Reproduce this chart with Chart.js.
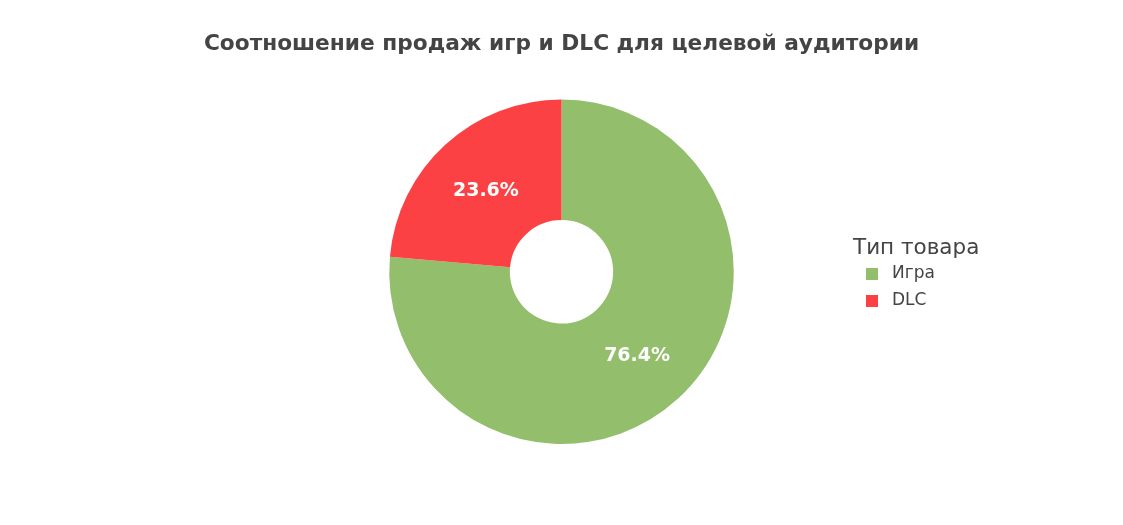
<!DOCTYPE html>
<html>
<head>
<meta charset="utf-8">
<script src="https://cdn.jsdelivr.net/npm/chart.js@4/dist/chart.umd.min.js"></script>
<style>
html,body{margin:0;padding:0;background:#fff;}
#wrap{width:1123px;height:525px;position:relative;}
</style>
</head>
<body>
<div id="wrap"><canvas id="c" width="1123" height="525"></canvas></div>
<script>
const titleText = 'Соотношение продаж игр и DLC для целевой аудитории';
const legendTitle = 'Тип товара';
const categories = ['Игра', 'DLC'];
const values = [76.4, 23.6];
const colors = ['#93be6c', '#fc4144'];

const FONT = "'DejaVu Sans', sans-serif";

const labelPlugin = {
  id: 'sliceLabels',
  afterDatasetsDraw(chart) {
    const ctx = chart.ctx;
    const meta = chart.getDatasetMeta(0);
    const total = values.reduce((a, b) => a + b, 0);
    ctx.save();
    ctx.font = "bold 19px " + FONT;
    ctx.fillStyle = '#ffffff';
    ctx.textAlign = 'center';
    ctx.textBaseline = 'middle';
    meta.data.forEach((arc, i) => {
      const p = arc.getCenterPoint();
      ctx.fillText((values[i] / total * 100).toFixed(1) + '%', p.x, p.y + 2);
    });
    ctx.restore();
  }
};

const legendPlugin = {
  id: 'customLegend',
  afterDraw(chart) {
    const ctx = chart.ctx;
    ctx.save();
    ctx.fillStyle = '#444444';
    ctx.textAlign = 'left';
    ctx.textBaseline = 'middle';
    ctx.font = "21.5px " + FONT;
    ctx.fillText(legendTitle, 853, 248);
    ctx.font = "17px " + FONT;
    categories.forEach((c, i) => {
      const y = 274 + i * 27;
      ctx.fillStyle = colors[i];
      ctx.fillRect(866, y - 6, 12, 12);
      ctx.fillStyle = '#444444';
      ctx.fillText(c, 892, y);
    });
    ctx.restore();
  }
};

new Chart(document.getElementById('c'), {
  type: 'doughnut',
  data: {
    labels: categories,
    datasets: [{
      data: values,
      backgroundColor: colors,
      borderWidth: 0,
      hoverOffset: 0
    }]
  },
  options: {
    responsive: false,
    animation: false,
    cutout: '30%',
    layout: { padding: { top: 0, bottom: 81, left: 0, right: 0 } },
    plugins: {
      legend: { display: false },
      tooltip: { enabled: false },
      title: {
        display: true,
        text: titleText,
        color: '#444444',
        font: { family: FONT, size: 21.7, weight: 'bold', lineHeight: 1.2 },
        padding: { top: 31, bottom: 42.5 }
      }
    }
  },
  plugins: [labelPlugin, legendPlugin]
});
</script>
</body>
</html>
